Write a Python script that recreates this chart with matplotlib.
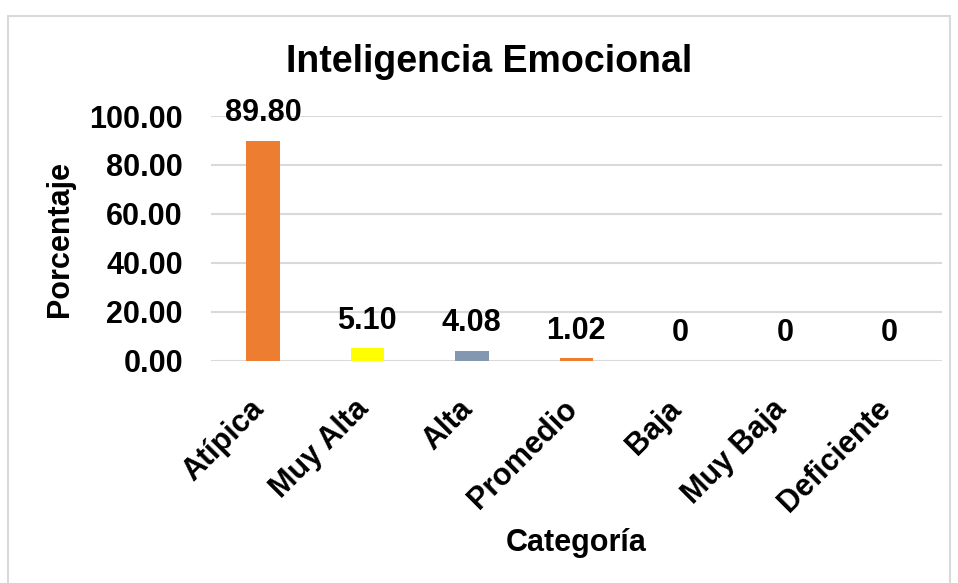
import matplotlib.pyplot as plt
from matplotlib.patches import Rectangle
from matplotlib.transforms import ScaledTranslation
import numpy as np

plt.rcParams['font.family'] = ['Liberation Sans', 'DejaVu Sans']
plt.rcParams['font.weight'] = 'bold'

categorias = ['Atípica', 'Muy Alta', 'Alta', 'Promedio', 'Baja', 'Muy Baja', 'Deficiente']
porcentajes = [89.80, 5.10, 4.08, 1.02, 0, 0, 0]
etiquetas = ['89.80', '5.10', '4.08', '1.02', '0', '0', '0']
colores = ['#ED7D31', '#FFFF00', '#8497B0', '#ED7D31', '#ED7D31', '#ED7D31', '#ED7D31']

fig = plt.figure(figsize=(9.58, 5.83), dpi=100)
ax = fig.add_axes([0.220, 0.381, 0.763, 0.420])

x = np.arange(len(categorias))
ax.bar(x, porcentajes, width=0.32, color=colores, zorder=3)

for xi, v, txt in zip(x, porcentajes, etiquetas):
    ax.annotate(txt, (xi, v), xytext=(0, 20), textcoords='offset points',
                ha='center', va='center', fontsize=22, fontweight='bold', clip_on=False)

ax.set_xlim(-0.5, len(categorias) - 0.5)
ax.set_ylim(0, 100)
ax.set_yticks(np.arange(0, 101, 20))
ax.set_yticklabels([f'{t:.2f}' for t in np.arange(0, 101, 20)], fontsize=22, fontweight='bold')
ax.set_xticks(x)
ax.set_xticklabels(categorias, rotation=45, ha='right', rotation_mode='anchor',
                   fontsize=22, fontweight='bold')
ax.tick_params(axis='y', length=0, pad=20)
ax.tick_params(axis='x', length=0, pad=24)
shift = ScaledTranslation(-10 / 72, 0, fig.dpi_scale_trans)
for lbl in ax.get_xticklabels():
    lbl.set_transform(lbl.get_transform() + shift)
ax.grid(axis='y', color='#D9D9D9', linewidth=1.5, zorder=0)
ax.set_axisbelow(True)
for s in ax.spines.values():
    s.set_visible(False)

fig.text(489 / 958, 1 - 62 / 583, 'Inteligencia Emocional', ha='center', va='center',
         fontsize=27, fontweight='bold')
fig.text(60 / 958, 1 - 239 / 583, 'Porcentaje', rotation=90, ha='center', va='center',
         fontsize=22, fontweight='bold')
fig.text(576 / 958, 1 - 543 / 583, 'Categoría', ha='center', va='center',
         fontsize=22, fontweight='bold')

fig.patches.append(Rectangle((8 / 958, -0.05), 942 / 958, 1 - 16 / 583 + 0.05,
                             transform=fig.transFigure, fill=False,
                             edgecolor='#D9D9D9', linewidth=1.5))

fig.savefig('out.png', dpi=100)
